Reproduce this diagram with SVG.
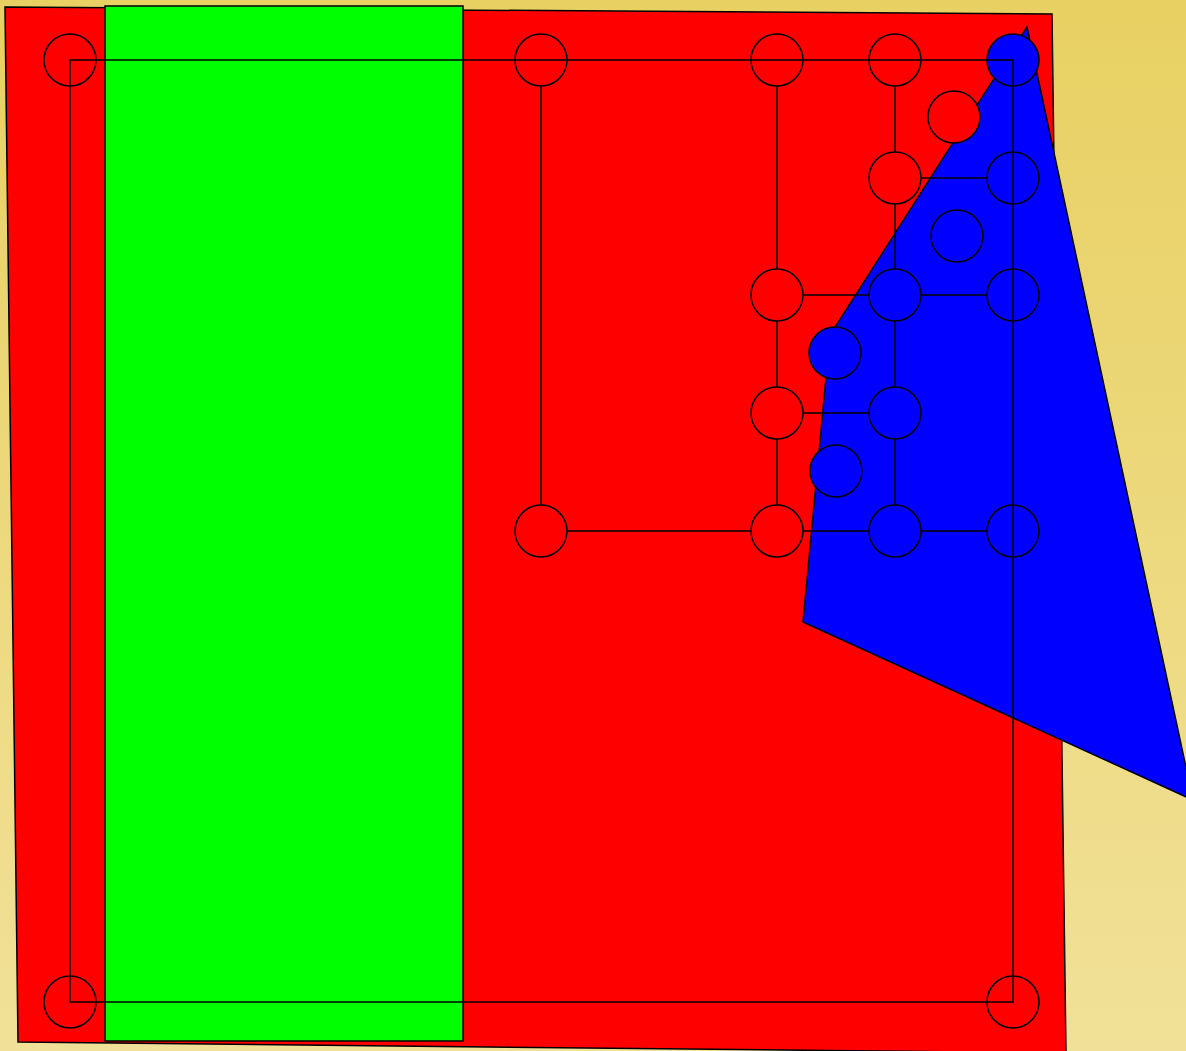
<svg xmlns="http://www.w3.org/2000/svg" width="1186" height="1051" viewBox="0 0 1186 1051">
<defs>
<linearGradient id="bg" x1="0" y1="0" x2="0" y2="1">
<stop offset="0" stop-color="#E8D062"/>
<stop offset="1" stop-color="#F1E198"/>
</linearGradient>
</defs>
<style>
.sh{stroke:#000;stroke-width:1.5;stroke-linejoin:miter}
.n{stroke:#000;stroke-width:1.5}
.r{fill:#ff0000}
.b{fill:#0000ff}
.c{stroke:#000;stroke-width:1.5;fill:none}
</style>
<rect x="0" y="0" width="1186" height="1051" fill="url(#bg)"/>
<polygon class="sh" fill="#ff0000" points="5,7 1052,14 1066,1053 18,1042"/>
<rect class="sh" fill="#00ff00" x="105" y="6" width="358" height="1035"/>
<polygon class="sh" fill="#0000ff" points="1027,27 1193,800 803,622 830,335"/>
<g id="nodes">
<g id="n1"><circle class="n r" cx="70" cy="60" r="26"/></g>
<g id="n2"><circle class="n r" cx="541" cy="60" r="26"/></g>
<g id="n3"><circle class="n r" cx="777" cy="60" r="26"/></g>
<g id="n4"><circle class="n r" cx="895" cy="60" r="26"/></g>
<g id="n5"><circle class="n b" cx="1013" cy="60" r="26"/></g>
<g id="n6"><circle class="n r" cx="954" cy="117" r="26"/></g>
<g id="n7"><circle class="n r" cx="895" cy="178" r="26"/></g>
<g id="n8"><circle class="n b" cx="1013" cy="178" r="26"/></g>
<g id="n9"><circle class="n b" cx="957" cy="236" r="26"/></g>
<g id="n10"><circle class="n r" cx="777" cy="295" r="26"/></g>
<g id="n11"><circle class="n b" cx="895" cy="295" r="26"/></g>
<g id="n12"><circle class="n b" cx="1013" cy="295" r="26"/></g>
<g id="n13"><circle class="n b" cx="835" cy="353" r="26"/></g>
<g id="n14"><circle class="n r" cx="777" cy="413" r="26"/></g>
<g id="n15"><circle class="n b" cx="895" cy="413" r="26"/></g>
<g id="n16"><circle class="n b" cx="836" cy="471" r="26"/></g>
<g id="n17"><circle class="n r" cx="541" cy="531" r="26"/></g>
<g id="n18"><circle class="n r" cx="777" cy="531" r="26"/></g>
<g id="n19"><circle class="n b" cx="895" cy="531" r="26"/></g>
<g id="n20"><circle class="n b" cx="1013" cy="531" r="26"/></g>
<g id="n21"><circle class="n r" cx="70" cy="1002" r="26"/></g>
<g id="n22"><circle class="n r" cx="1013" cy="1002" r="26"/></g>
</g>
<g id="connectors">
<path class="c" d="M70,60 H1013 V1002 H70 Z"/>
<path class="c" d="M541,86 V505 M567,531 H751 M777,86 V269 M777,321 V387 M777,439 V505 M803,295 H869 M803,413 H869 M803,531 H869 M921,295 H987 M921,531 H987 M921,178 H987 M895,86 V152 M895,204 V269 M895,321 V387 M895,439 V505"/>
</g>
</svg>
